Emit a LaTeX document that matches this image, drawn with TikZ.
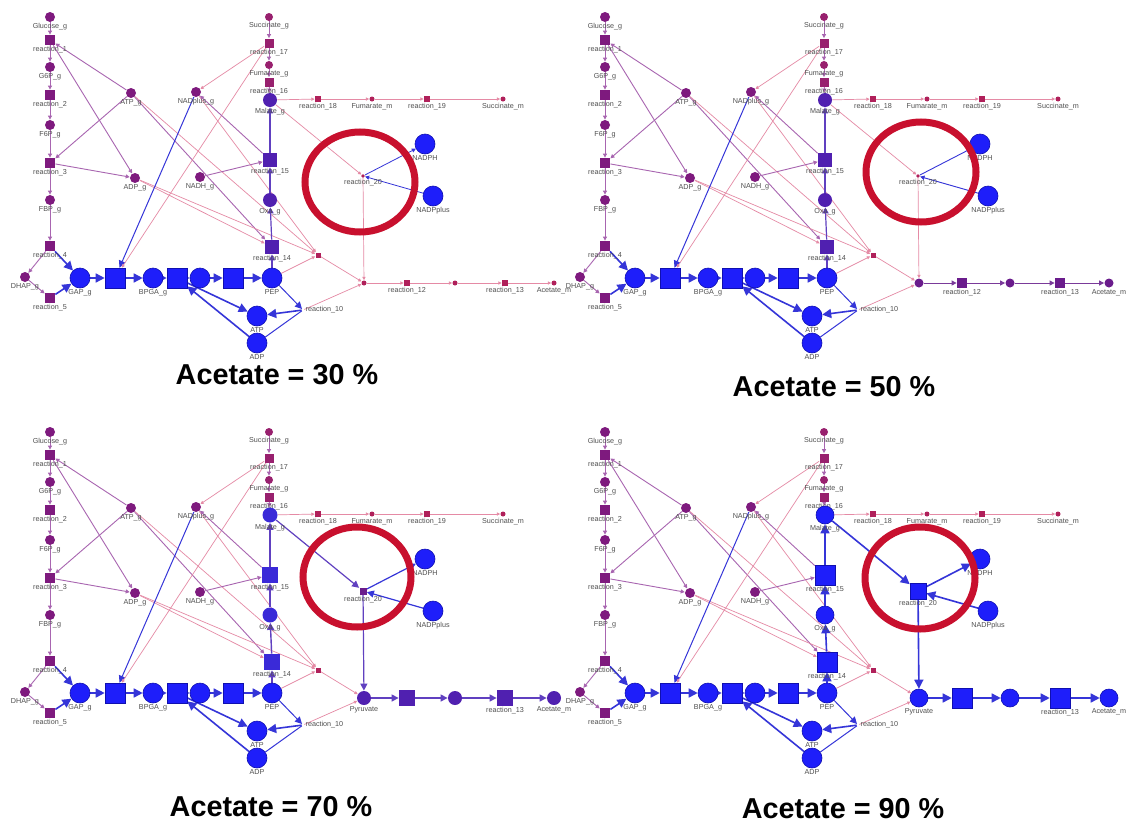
\documentclass[tikz,border=0pt]{standalone}
\usepackage{fontspec}
\setmainfont{Liberation Sans}
\usetikzlibrary{arrows.meta}
\pgfdeclarelayer{paper}
\pgfdeclarelayer{bg}
\pgfsetlayers{paper,bg,main}

\definecolor{upcol}{HTML}{7E1A7E}
\definecolor{upedge}{HTML}{A865B0}
\definecolor{tcacol}{HTML}{98206E}
\definecolor{crim}{HTML}{B0205A}
\definecolor{pinkedge}{HTML}{E58AA5}
\definecolor{blcol}{HTML}{1E1EFA}
\definecolor{bldark}{HTML}{1010B0}
\definecolor{bledge}{HTML}{3535D8}
\definecolor{indcol}{HTML}{5020B0}
\definecolor{indcolb}{HTML}{3A2AD8}
\definecolor{indedge}{HTML}{6040C0}
\definecolor{purcol}{HTML}{6A1C8C}
\definecolor{puredge}{HTML}{7A3A9A}
\definecolor{labgray}{HTML}{505050}
\definecolor{ringred}{HTML}{C8102E}

\tikzset{
  lab/.style={font=\fontsize{3.6}{4}\selectfont, text=labgray, inner sep=0.4pt},
  upc/.style={circle, fill=upcol, inner sep=0pt, minimum size=5pt},
  ups/.style={rectangle, fill=upcol, inner sep=0pt, minimum size=5pt},
  tcac/.style={circle, fill=tcacol, inner sep=0pt, minimum size=4pt},
  tcas/.style={rectangle, fill=tcacol, inner sep=0pt, minimum size=4.5pt},
  rdc/.style={circle, fill=crim, inner sep=0pt, minimum size=2.5pt},
  rds/.style={rectangle, fill=crim, inner sep=0pt, minimum size=3pt},
  blc/.style={circle, fill=blcol, draw=bldark, line width=0.3pt, inner sep=0pt, minimum size=10pt},
  bls/.style={rectangle, fill=blcol, draw=bldark, line width=0.3pt, inner sep=0pt, minimum size=10pt},
  junc/.style={circle, inner sep=0pt, minimum size=1pt},
  eup/.style={draw=upedge, line width=0.45pt, -{Triangle[length=2pt,width=2pt]}},
  epk/.style={draw=pinkedge, line width=0.35pt, -{Triangle[length=1.6pt,width=1.6pt]}},
  ebl/.style={draw=bledge, line width=0.8pt, -{Triangle[length=4.5pt,width=4.5pt]}},
  eblt/.style={draw=bledge, line width=0.5pt, -{Triangle[length=3.5pt,width=3.5pt]}},
  ring/.style={draw=ringred, line width=3.5pt},
  title/.style={font=\fontsize{14.4}{17}\selectfont\bfseries, text=black},
  % flux levels of the malic-enzyme branch, one preset per panel
  fluxA/.style={
    midc/.style={circle, fill=indcol, inner sep=0pt, minimum size=7pt},
    mids/.style={rectangle, fill=indcol, inner sep=0pt, minimum size=7pt},
    r20n/.style={rdc, minimum size=1.8pt},
    pyrn/.style={rdc},
    lowc/.style={rdc}, lows/.style={rds},
    r12lab/.style={label={[lab]below:reaction\_12}},
    emid/.style={draw=indedge, line width=0.6pt, -{Triangle[length=3pt,width=3pt]}},
    e20/.style={epk},
    e20b/.style={draw=bledge, line width=0.4pt, -{Triangle[length=2pt,width=2pt]}},
    elow/.style={epk}},
  fluxB/.style={
    midc/.style={circle, fill=indcol, inner sep=0pt, minimum size=7pt},
    mids/.style={rectangle, fill=indcol, inner sep=0pt, minimum size=7pt},
    r20n/.style={rdc, minimum size=1.8pt},
    pyrn/.style={circle, fill=purcol, inner sep=0pt, minimum size=4.5pt},
    lowc/.style={circle, fill=purcol, inner sep=0pt, minimum size=4.5pt},
    lows/.style={rectangle, fill=purcol, inner sep=0pt, minimum size=5pt},
    r12lab/.style={label={[lab]below:reaction\_12}},
    emid/.style={draw=indedge, line width=0.6pt, -{Triangle[length=3pt,width=3pt]}},
    e20/.style={epk},
    e20b/.style={draw=bledge, line width=0.45pt, -{Triangle[length=2.2pt,width=2.2pt]}},
    elow/.style={draw=puredge, line width=0.5pt, -{Triangle[length=2.5pt,width=2.5pt]}}},
  fluxC/.style={
    midc/.style={circle, fill=indcolb, inner sep=0pt, minimum size=7.5pt},
    mids/.style={rectangle, fill=indcolb, inner sep=0pt, minimum size=8pt},
    r20n/.style={rectangle, fill=purcol, inner sep=0pt, minimum size=3.5pt},
    pyrn/.style={circle, fill=indcol, inner sep=0pt, minimum size=7pt, label={[lab]below:Pyruvate}},
    lowc/.style={circle, fill=indcol, inner sep=0pt, minimum size=7pt},
    lows/.style={rectangle, fill=indcol, inner sep=0pt, minimum size=8pt},
    r12lab/.style={},
    emid/.style={draw=indedge, line width=0.7pt, -{Triangle[length=3.5pt,width=3.5pt]}},
    e20/.style={draw=indedge, line width=0.6pt, -{Triangle[length=3.5pt,width=3.5pt]}},
    e20b/.style={draw=bledge, line width=0.6pt, -{Triangle[length=3.5pt,width=3.5pt]}},
    elow/.style={draw=indedge, line width=0.7pt, -{Triangle[length=3.5pt,width=3.5pt]}}},
  fluxD/.style={
    midc/.style={circle, fill=blcol, draw=bldark, line width=0.3pt, inner sep=0pt, minimum size=9pt},
    mids/.style={rectangle, fill=blcol, draw=bldark, line width=0.3pt, inner sep=0pt, minimum size=10pt},
    r20n/.style={rectangle, fill=blcol, draw=bldark, line width=0.3pt, inner sep=0pt, minimum size=8pt},
    pyrn/.style={circle, fill=blcol, draw=bldark, line width=0.3pt, inner sep=0pt, minimum size=9pt, label={[lab]below:Pyruvate}},
    lowc/.style={circle, fill=blcol, draw=bldark, line width=0.3pt, inner sep=0pt, minimum size=9pt},
    lows/.style={rectangle, fill=blcol, draw=bldark, line width=0.3pt, inner sep=0pt, minimum size=10pt},
    r12lab/.style={},
    emid/.style={draw=bledge, line width=0.8pt, -{Triangle[length=4.5pt,width=4.5pt]}},
    e20/.style={draw=bledge, line width=0.8pt, -{Triangle[length=4.5pt,width=4.5pt]}},
    e20b/.style={draw=bledge, line width=0.8pt, -{Triangle[length=4.5pt,width=4.5pt]}},
    elow/.style={draw=bledge, line width=0.8pt, -{Triangle[length=4.5pt,width=4.5pt]}}},
}

% the metabolic network of one panel, in local pixel coordinates
\newcommand\drawnet{%
  % glycolysis, upper part
  \node[upc, label={[lab]below:Glucose\_g}] (glc) at (50,17) {};
  \node[ups, label={[lab]below:reaction\_1}] (r1) at (50,40) {};
  \node[upc, label={[lab]below:G6P\_g}] (g6p) at (50,67) {};
  \node[ups, label={[lab]below:reaction\_2}] (r2) at (50,95) {};
  \node[upc, label={[lab]below:F6P\_g}] (f6p) at (50,125) {};
  \node[ups, label={[lab]below:reaction\_3}] (r3) at (50,163) {};
  \node[upc, label={[lab]below:FBP\_g}] (fbp) at (50,200) {};
  \node[ups, label={[lab]below:reaction\_4}] (r4) at (50,246) {};
  \node[upc, label={[lab]below:DHAP\_g}] (dhap) at (25,277) {};
  \node[ups, label={[lab]below:reaction\_5}] (r5) at (50,298) {};
  % cofactors
  \node[upc, label={[lab]below:ATP\_g}] (atpg) at (131,93) {};
  \node[upc, label={[lab]below:NADplus\_g}] (nadg) at (196,92) {};
  \node[upc, label={[lab]below:ADP\_g}] (adpg) at (135,178) {};
  \node[upc, label={[lab]below:NADH\_g}] (nadhg) at (200,177) {};
  % glycolysis, lower part
  \node[blc, label={[lab]below:GAP\_g}] (gap) at (80,278) {};
  \node[bls] (r6) at (115,278) {};
  \node[blc, label={[lab]below:BPGA\_g}] (bpga) at (153,278) {};
  \node[bls] (r7) at (177,278) {};
  \node[blc] (pg) at (200,278) {};
  \node[bls] (r8) at (233,278) {};
  \node[blc, label={[lab]below:PEP}] (pep) at (272,278) {};
  \node[blc, label={[lab]below:ATP}] (atp) at (257,316) {};
  \node[blc, label={[lab]below:ADP}] (adp) at (257,343) {};
  % reductive branch
  \node[tcac, label={[lab]below:Succinate\_g}] (succg) at (269,17) {};
  \node[tcas, label={[lab]below:reaction\_17}] (r17) at (269,43) {};
  \node[tcac, label={[lab]below:Fumarate\_g}] (fumg) at (269,65) {};
  \node[tcas, label={[lab]below:reaction\_16}] (r16) at (269,82) {};
  \node[midc, label={[lab]below:Malate\_g}] (mal) at (270,100) {};
  \node[mids, label={[lab]below:reaction\_15}] (r15) at (270,160) {};
  \node[midc, label={[lab]below:Oxa\_g}] (oxa) at (270,200) {};
  \node[mids, label={[lab]below:reaction\_14}] (r14) at (272,247) {};
  % mitochondrial fumarate route
  \node[rds, label={[lab]below:reaction\_18}] (r18) at (318,99) {};
  \node[rdc, label={[lab]below:Fumarate\_m}] (fumm) at (372,99) {};
  \node[rds, label={[lab]below:reaction\_19}] (r19) at (427,99) {};
  \node[rdc, label={[lab]below:Succinate\_m}] (succm) at (503,99) {};
  % malic enzyme
  \node[r20n, label={[lab]below:reaction\_20}] (r20) at (363,176) {};
  \node[blc, label={[lab]below:NADPH}] (nadph) at (425,144) {};
  \node[blc, label={[lab]below:NADPplus}] (nadpp) at (433,196) {};
  % pyruvate and acetate
  \node[rds, minimum size=2.5pt] (r11) at (318,255) {};
  \node[junc, label={[lab]right:reaction\_10}] (r10) at (303,310) {};
  \node[pyrn] (pyr) at (364,283) {};
  \node[lows, r12lab] (r12) at (407,283) {};
  \node[lowc] (acc) at (455,283) {};
  \node[lows, label={[lab]below:reaction\_13}] (r13) at (505,283) {};
  \node[lowc, label={[lab]below:Acetate\_m}] (acm) at (554,283) {};
  \begin{pgfonlayer}{bg}
    \draw[eup] (glc) -- (r1);
    \draw[eup] (r1) -- (g6p);
    \draw[eup] (g6p) -- (r2);
    \draw[eup] (r2) -- (f6p);
    \draw[eup] (f6p) -- (r3);
    \draw[eup] (r3) -- (fbp);
    \draw[eup] (fbp) -- (r4);
    \draw[eup] (r4) -- (dhap);
    \draw[eup] (dhap) -- (r5);
    \draw[ebl] (r4) -- (gap);
    \draw[ebl] (r5) -- (gap);
    \draw[ebl] (gap) -- (r6);
    \draw[ebl] (r6) -- (bpga);
    \draw[ebl] (bpga) -- (r7);
    \draw[ebl] (r7) -- (pg);
    \draw[ebl] (pg) -- (r8);
    \draw[ebl] (r8) -- (pep);
    \draw[ebl] (r7) -- (atp);
    \draw[ebl] (adp) -- (r7);
    \draw[eblt] (pep) -- (r10);
    \draw[draw=bledge, line width=0.5pt] (adp) -- (r10);
    \draw[ebl] (r10) -- (atp);
    \draw[epk] (r10) -- (pyr);
    \draw[epk] (pep) -- (r11);
    \draw[epk] (r11) -- (pyr);
    \draw[eup] (atpg) -- (r1);
    \draw[eup] (r1) -- (adpg);
    \draw[eup] (atpg) -- (r3);
    \draw[eup] (r3) -- (adpg);
    \draw[eup] (atpg) -- (r14);
    \draw[epk] (atpg) -- (r11);
    \draw[epk] (adpg) -- (r14);
    \draw[epk] (adpg) -- (r11);
    \draw[epk] (nadg) -- (r11);
    \draw[eblt] (nadg) -- (r6);
    \draw[epk] (r17) -- (r6);
    \draw[epk] (r17) -- (nadg);
    \draw[eup] (nadhg) -- (r15);
    \draw[eup] (r15) -- (nadg);
    \draw[eup] (succg) -- (r17);
    \draw[eup] (r17) -- (fumg);
    \draw[eup] (fumg) -- (r16);
    \draw[eup] (r16) -- (mal);
    \draw[epk] (mal) -- (r18);
    \draw[epk] (r18) -- (fumm);
    \draw[epk] (fumm) -- (r19);
    \draw[epk] (r19) -- (succm);
    \draw[emid] (pep) -- (r14);
    \draw[emid] (r14) -- (oxa);
    \draw[emid] (oxa) -- (r15);
    \draw[emid] (r15) -- (mal);
    \draw[e20] (mal) -- (r20);
    \draw[e20b] (r20) -- (nadph);
    \draw[e20b] (nadpp) -- (r20);
    \draw[e20] (r20) -- (pyr);
    \draw[elow] (pyr) -- (r12);
    \draw[elow] (r12) -- (acc);
    \draw[elow] (acc) -- (r13);
    \draw[elow] (r13) -- (acm);
  \end{pgfonlayer}%
}

\begin{document}
\begin{tikzpicture}[x=0.5pt, y=-0.5pt]
  \begin{pgfonlayer}{paper}
    \fill[white] (0,0) rectangle (1136,825);
  \end{pgfonlayer}
  \useasboundingbox (0,0) rectangle (1136,825);

  \begin{scope}[name prefix=p1-, fluxA]
    \drawnet
    \draw[ring] (360,182) ellipse [x radius=27.5pt, y radius=25pt];
  \end{scope}
  \begin{scope}[shift={(555,0)}, name prefix=p2-, fluxB]
    \drawnet
    \draw[ring] (366,172) ellipse [x radius=27.5pt, y radius=25pt];
  \end{scope}
  \begin{scope}[shift={(0,415)}, name prefix=p3-, fluxC]
    \drawnet
    \draw[ring] (357,162) ellipse [x radius=27pt, y radius=25pt];
  \end{scope}
  \begin{scope}[shift={(555,415)}, name prefix=p4-, fluxD]
    \drawnet
    \draw[ring] (365,163) ellipse [x radius=27.5pt, y radius=25.5pt];
  \end{scope}

  \node[title] (t1) at (277,375) {Acetate = 30 \%};
  \node[title] (t2) at (834,387) {Acetate = 50 \%};
  \node[title] (t3) at (271,807) {Acetate = 70 \%};
  \node[title] (t4) at (843,809) {Acetate = 90 \%};
\end{tikzpicture}
\end{document}
